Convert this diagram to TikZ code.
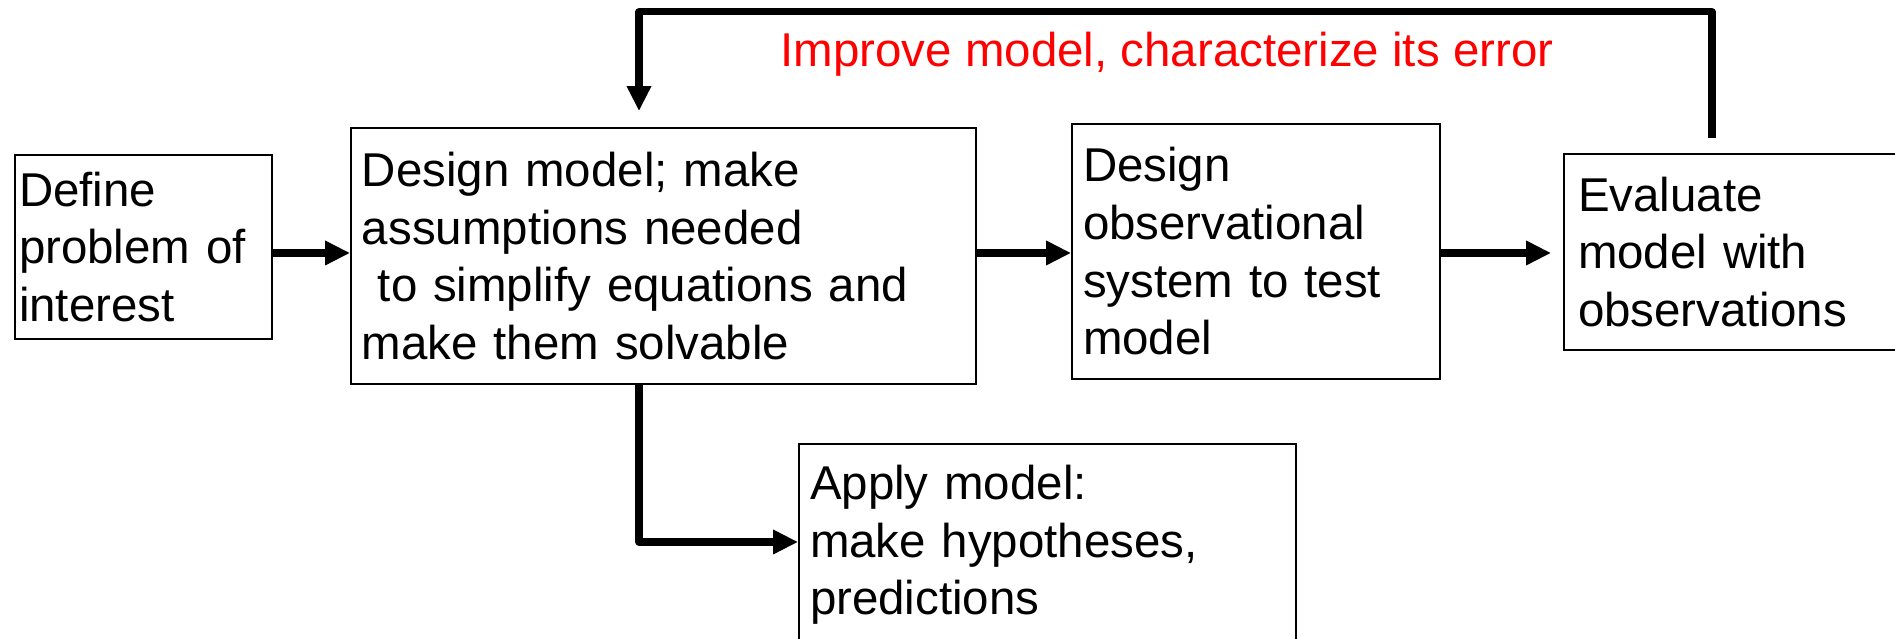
\documentclass[tikz,border=0pt]{standalone}
\usepackage{fontspec}
\setmainfont{Liberation Sans}
\usetikzlibrary{arrows.meta}

\begin{document}
\begin{tikzpicture}[
    box/.style = {draw, line width = .5pt, inner xsep = .11cm, inner ysep = 0pt, align = left, text width = #1, font = \fontsize{13.5}{16.4}\selectfont},
    flow/.style = {line width = 2pt, line join = round, -{Triangle[length = 2.5mm, width = 2.3mm]}},
    note/.style = {text = red, inner sep = 0pt, font = \fontsize{13.5}{16.4}\selectfont}
]
    \useasboundingbox (0, 0) rectangle (18.95, -6.39);
    \clip (0, 0) rectangle (18.95, -6.39);

    % main row
    \node [box = 2.49cm, inner xsep = .04cm, minimum height = 1.84cm] (define) at (1.435, -2.47) {Define\\problem of\\interest};
    \node [box = 6.03cm, minimum height = 2.56cm] (design) at (6.635, -2.56) {Design model; make\\assumptions needed\\\mbox{} to simplify equations and\\make them solvable};
    \node [box = 3.46cm, minimum height = 2.55cm] (observe) at (12.56, -2.515) {Design\\observational\\system to test\\model};
    \node [box = 3.18cm, inner xsep = .14cm, minimum height = 1.96cm] (evaluate) at (17.37, -2.52) {Evaluate\\model with\\observations};

    % below
    \node [box = 4.75cm, minimum height = 2.02cm] (apply) at (10.475, -5.45) {Apply model:\\make hypotheses,\\predictions};

    \coordinate (row) at (0, -2.53);
    \coordinate (bend) at (6.39, -5.42);
    \coordinate (topright) at (17.12, -0.12);
    \coordinate (topleft) at (6.39, -0.12);

    \draw [flow] (define.east |- row)  --  (design.west |- row);
    \draw [flow] (design.east |- row)  --  (observe.west |- row);
    \draw [flow, shorten > = .12cm] (observe.east |- row)  --  (evaluate.west |- row);
    \draw [flow] (design.south -| bend)  --  (bend)  --  (apply.west |- bend);

    % feedback loop
    \draw [flow, shorten < = .15cm, shorten > = .16cm] (evaluate.north -| topright)  --  (topright)  --  (topleft)  --  (design.north -| topleft);
    \node [note, anchor = base west] (improve) at (7.80, -0.67) {Improve model, characterize its error};

\end{tikzpicture}
\end{document}
